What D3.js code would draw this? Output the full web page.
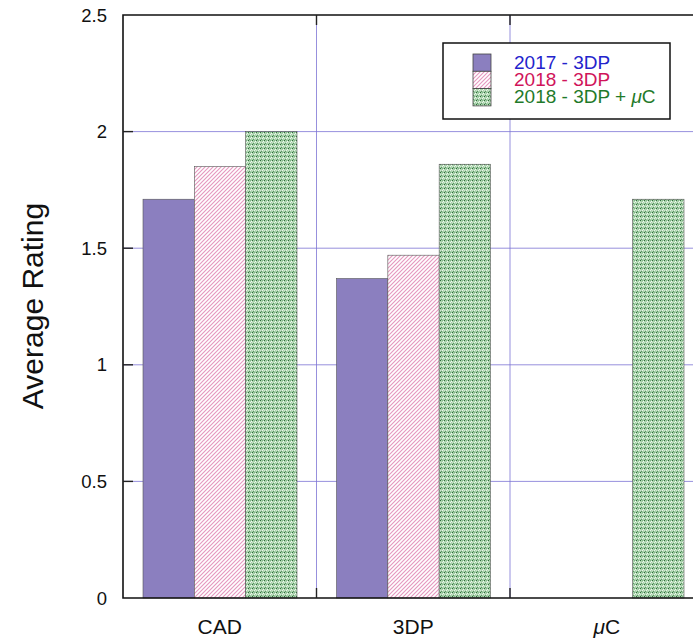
<!DOCTYPE html>
<html><head><meta charset="utf-8">
<script src="https://cdn.jsdelivr.net/npm/d3@7"></script>
<style>body{margin:0;background:#fff;}svg{display:block;font-family:"Liberation Sans",Arial,sans-serif;}</style>
</head><body>
<svg id="c" width="693" height="640"></svg>
<script>
const categories = ["CAD", "3DP", "μC"];
const seriesNames = ["2017 - 3DP", "2018 - 3DP", "2018 - 3DP + μC"];
const s2017 = [1.71, 1.37, 0];
const s2018 = [1.85, 1.47, 0];
const s2018mc = [2.0, 1.86, 1.71];
const yTicks = [0, 0.5, 1, 1.5, 2, 2.5];
const yTickLabels = ["0", "0.5", "1", "1.5", "2", "2.5"];

const series = [s2017, s2018, s2018mc];
const svg = d3.select("#c");
const L = 123, T = 15, B = 598, groupW = 193.5;
const x = d3.scaleBand().domain(categories).range([L, L + groupW * 3]).padding(0);
const xi = d3.scaleBand().domain(d3.range(3)).range([20, groupW - 19.5]).padding(0);
const y = d3.scaleLinear().domain([0, 2.5]).range([B, T]);

const defs = svg.append("defs");
const hatch = defs.append("pattern").attr("id", "hatch").attr("patternUnits", "userSpaceOnUse")
  .attr("width", 4).attr("height", 4);
hatch.append("rect").attr("width", 4).attr("height", 4).attr("fill", "#fff");
hatch.append("path").attr("d", "M-1,1 l2,-2 M0,4 l4,-4 M3,5 l2,-2")
  .attr("stroke", "#e597be").attr("stroke-width", 1.1);
const dots = defs.append("pattern").attr("id", "dots").attr("patternUnits", "userSpaceOnUse")
  .attr("width", 4).attr("height", 4);
dots.append("rect").attr("width", 4).attr("height", 4).attr("fill", "#a9d2ab");
[[0,0,"#2e6a3a"],[2,2,"#e8f4e8"],[2,0,"#7fb488"],[0,2,"#cfe6d0"],[1,3,"#5a9464"],[3,1,"#f2faf2"]].forEach(d => {
  dots.append("rect").attr("x", d[0]).attr("y", d[1]).attr("width", 1).attr("height", 1).attr("fill", d[2]);
});
const fills = ["#8b7fbf", "url(#hatch)", "url(#dots)"];
const legendColors = ["#2323cc", "#d0145a", "#1f7a2a"];

const grid = "#7c74d4";
svg.append("g").selectAll("line").data(yTicks.slice(1, -1)).join("line")
  .attr("x1", L).attr("x2", 693).attr("y1", d => y(d)).attr("y2", d => y(d))
  .attr("stroke", grid).attr("stroke-width", 0.8);
const bounds = categories.slice(1).map(c => x(c));
svg.append("g").selectAll("line").data(bounds).join("line")
  .attr("x1", d => d).attr("x2", d => d).attr("y1", T).attr("y2", B)
  .attr("stroke", grid).attr("stroke-width", 0.8);

categories.forEach((c, ci) => {
  series.forEach((s, si) => {
    if (s[ci] <= 0) return;
    svg.append("rect")
      .attr("x", x(c) + xi(si)).attr("width", xi.bandwidth())
      .attr("y", y(s[ci])).attr("height", B - y(s[ci]))
      .attr("fill", fills[si]).attr("stroke", "#555").attr("stroke-width", 0.6);
  });
});

svg.append("path").attr("d", `M693,${T} H${L} V${B} H693`).attr("fill", "none")
  .attr("stroke", "#111").attr("stroke-width", 1.6);
svg.append("g").selectAll("line").data(yTicks.slice(1, -1)).join("line")
  .attr("x1", L).attr("x2", L + 10).attr("y1", d => y(d)).attr("y2", d => y(d))
  .attr("stroke", "#222").attr("stroke-width", 1.4);
bounds.forEach(b => {
  svg.append("line").attr("x1", b).attr("x2", b).attr("y1", B).attr("y2", B - 10).attr("stroke", "#222").attr("stroke-width", 1.4);
  svg.append("line").attr("x1", b).attr("x2", b).attr("y1", T).attr("y2", T + 10).attr("stroke", "#222").attr("stroke-width", 1.4);
});

svg.append("g").selectAll("text").data(yTicks).join("text")
  .attr("x", 107).attr("y", d => y(d) + 6.5).attr("text-anchor", "end")
  .attr("font-size", 18.5).attr("fill", "#111").text((d, i) => yTickLabels[i]);

svg.append("g").selectAll("text").data(categories).join("text")
  .attr("x", d => x(d) + x.bandwidth() / 2).attr("y", 634).attr("text-anchor", "middle")
  .attr("font-size", 21).attr("fill", "#111")
  .each(function(d) {
    const t = d3.select(this);
    if (d.startsWith("μ")) {
      t.append("tspan").attr("font-style", "italic").text("μ");
      t.append("tspan").text(d.slice(1));
    } else t.text(d);
  });

svg.append("text").attr("transform", "translate(43,306) rotate(-90)").attr("text-anchor", "middle")
  .attr("font-size", 30).attr("fill", "#111").text("Average Rating");

const lg = svg.append("g");
lg.append("rect").attr("x", 443).attr("y", 43).attr("width", 227).attr("height", 76)
  .attr("fill", "#fff").attr("stroke", "#111").attr("stroke-width", 1.5);
seriesNames.forEach((n, i) => {
  lg.append("rect").attr("x", 473).attr("y", 54 + i * 17.3).attr("width", 18).attr("height", 17.3)
    .attr("fill", fills[i]).attr("stroke", "#444").attr("stroke-width", 0.8);
  const t = lg.append("text").attr("x", 514).attr("y", 69 + i * 17.2).attr("font-size", 19).attr("fill", legendColors[i]);
  const k = n.indexOf("μ");
  if (k >= 0) {
    t.append("tspan").text(n.slice(0, k));
    t.append("tspan").attr("font-style", "italic").text("μ");
    t.append("tspan").text(n.slice(k + 1));
  } else t.text(n);
});
</script>
</body></html>
